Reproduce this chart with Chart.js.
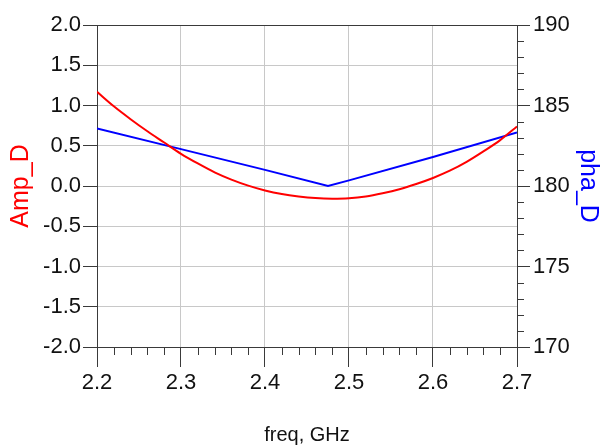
<!DOCTYPE html>
<html>
<head>
<meta charset="utf-8">
<script src="https://cdn.jsdelivr.net/npm/chart.js@4/dist/chart.umd.min.js"></script>
<style>
  html, body { margin: 0; padding: 0; background: #ffffff; }
  #wrap { width: 611px; height: 448px; position: relative; }
</style>
</head>
<body>
<div id="wrap"><canvas id="c"></canvas></div>
<script>
// ---- data ----
const freqAmp = [2.20, 2.22, 2.24, 2.26, 2.28, 2.30, 2.32, 2.34, 2.36, 2.38, 2.40, 2.42, 2.44,
                 2.46, 2.48, 2.50, 2.52, 2.54, 2.56, 2.58, 2.60, 2.62, 2.64, 2.66, 2.68, 2.70];
const ampD    = [1.17, 0.99, 0.83, 0.68, 0.54, 0.40, 0.28, 0.17, 0.08, 0.005, -0.055, -0.10, -0.13,
                 -0.15, -0.157, -0.152, -0.13, -0.09, -0.04, 0.025, 0.10, 0.19, 0.30, 0.43, 0.57, 0.74];

const freqPha = [2.20, 2.30, 2.40, 2.475, 2.50, 2.60, 2.70];
const phaD    = [183.57, 182.29, 181.00, 180.00, 180.35, 181.80, 183.32];

// tick labels
const freqTicks = [2.2, 2.3, 2.4, 2.5, 2.6, 2.7];
const ampTicks  = [-2.0, -1.5, -1.0, -0.5, 0.0, 0.5, 1.0, 1.5, 2.0];
const phaTicks  = [170, 175, 180, 185, 190];
const freqMinorTicks = [2.22, 2.24, 2.26, 2.28, 2.32, 2.34, 2.36, 2.38, 2.42, 2.44, 2.46, 2.48,
                        2.52, 2.54, 2.56, 2.58, 2.62, 2.64, 2.66, 2.68];
const phaMinorTicks  = [171, 172, 173, 174, 176, 177, 178, 179, 181, 182, 183, 184, 186, 187, 188, 189];

// ---- styling ----
const REG = "'Liberation Sans', Arial, sans-serif";
const AXIS_DARK = '#3a3a3a';
const GRID_LIGHT = '#c8c8c8';

Chart.defaults.font.family = REG;
Chart.defaults.color = '#111';

const useTicks = arr => (scale) => { scale.ticks = arr.map(v => ({ value: v })); };

const minorTickPlugin = {
  id: 'minorTicks',
  afterDraw(chart) {
    const ctx = chart.ctx;
    const area = chart.chartArea;
    const xs = chart.scales.x, y2 = chart.scales.y2;
    ctx.save();
    ctx.strokeStyle = AXIS_DARK;
    ctx.lineWidth = 1;
    ctx.beginPath();
    freqMinorTicks.forEach(v => {
      const px = Math.round(xs.getPixelForValue(v)) + 0.5;
      ctx.moveTo(px, area.bottom);
      ctx.lineTo(px, area.bottom + 8);
    });
    phaMinorTicks.forEach(v => {
      const py = Math.round(y2.getPixelForValue(v)) + 0.5;
      ctx.moveTo(area.right, py);
      ctx.lineTo(area.right + 7, py);
    });
    ctx.stroke();
    ctx.restore();
  }
};

new Chart(document.getElementById('c'), {
  type: 'line',
  data: {
    datasets: [
      {
        label: 'Amp_D',
        data: freqAmp.map((f, i) => ({ x: f, y: ampD[i] })),
        borderColor: '#ff0000',
        borderWidth: 2,
        pointRadius: 0,
        cubicInterpolationMode: 'monotone',
        yAxisID: 'y'
      },
      {
        label: 'pha_D',
        data: freqPha.map((f, i) => ({ x: f, y: phaD[i] })),
        borderColor: '#0000ff',
        borderWidth: 2,
        pointRadius: 0,
        tension: 0,
        yAxisID: 'y2'
      }
    ]
  },
  options: {
    responsive: true,
    maintainAspectRatio: false,
    animation: false,
    layout: { padding: { top: 25, left: 0, right: 0, bottom: 0 } },
    plugins: { legend: { display: false }, tooltip: { enabled: false } },
    scales: {
      x: {
        type: 'linear',
        position: 'bottom',
        min: 2.2, max: 2.7,
        afterBuildTicks: useTicks(freqTicks),
        afterFit: (s) => { s.height = 101; },
        border: { display: true, color: AXIS_DARK, width: 1 },
        grid: {
          color: GRID_LIGHT,
          tickColor: AXIS_DARK,
          tickLength: 20,
          drawTicks: true
        },
        ticks: {
          padding: 3,
          maxRotation: 0,
          autoSkip: false,
          font: { family: REG, size: 22 },
          color: '#111',
          callback: (v) => Number(v).toFixed(1)
        },
        title: {
          display: true,
          text: 'freq, GHz',
          color: '#111',
          font: { family: REG, size: 20 },
          padding: { top: 0, bottom: 1 }
        }
      },
      y: {
        type: 'linear',
        position: 'left',
        min: -2, max: 2,
        afterBuildTicks: useTicks(ampTicks),
        afterFit: (s) => { s.width = 97; },
        border: { display: true, color: AXIS_DARK, width: 1 },
        grid: {
          color: (ctx) => (ctx.tick && (ctx.tick.value === 2 || ctx.tick.value === -2)) ? AXIS_DARK : GRID_LIGHT,
          tickColor: AXIS_DARK,
          tickLength: 14,
          drawTicks: true
        },
        ticks: {
          padding: 2,
          autoSkip: false,
          font: { family: REG, size: 22 },
          color: '#111',
          callback: (v) => Number(v).toFixed(1)
        },
        title: {
          display: true,
          text: 'Amp_D',
          color: '#ff0000',
          font: { family: REG, size: 25 },
          padding: { top: 6, bottom: 0 }
        }
      },
      y2: {
        type: 'linear',
        position: 'right',
        min: 170, max: 190,
        afterBuildTicks: useTicks(phaTicks),
        afterFit: (s) => { s.width = 94; },
        border: { display: true, color: AXIS_DARK, width: 1 },
        grid: {
          drawOnChartArea: false,
          tickColor: AXIS_DARK,
          tickLength: 13,
          drawTicks: true
        },
        ticks: {
          padding: 3,
          autoSkip: false,
          font: { family: REG, size: 22 },
          color: '#111',
          callback: (v) => String(v)
        },
        title: {
          display: true,
          text: 'pha_D',
          color: '#0000ff',
          font: { family: REG, size: 25 },
          padding: { top: 8, bottom: 0 }
        }
      }
    }
  },
  plugins: [minorTickPlugin]
});
</script>
</body>
</html>
